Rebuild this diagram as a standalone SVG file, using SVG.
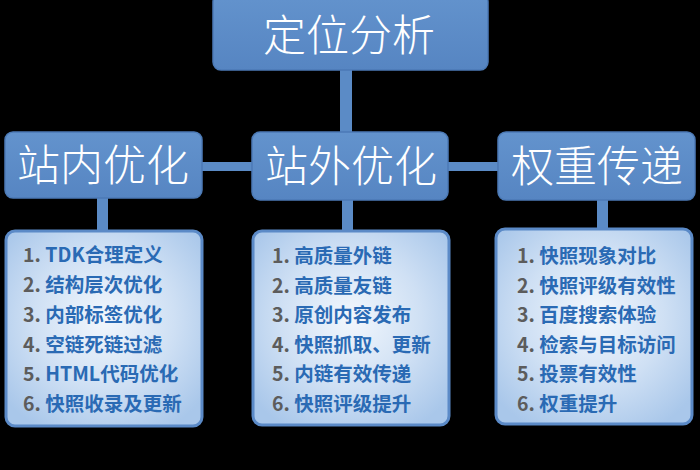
<svg xmlns="http://www.w3.org/2000/svg" width="700" height="470" viewBox="0 0 700 470">
  <defs>
    <radialGradient id="listFill" cx="50%" cy="45%" r="65%">
      <stop offset="0" stop-color="#f2f7fd"/>
      <stop offset="0.55" stop-color="#cfe0f4"/>
      <stop offset="1" stop-color="#a9c7ea"/>
    </radialGradient>
    <linearGradient id="headFill" x1="0" y1="0" x2="0" y2="1">
      <stop offset="0" stop-color="#6393cd"/>
      <stop offset="1" stop-color="#5685c2"/>
    </linearGradient>
    <style>
      .head { fill: url(#headFill); stroke: #4c7ab6; stroke-width: 1.5; }
      .list { fill: url(#listFill); stroke: #5b8ac7; stroke-width: 3; }
      .conn { fill: #5b8bc6; }
      .htxt { font-family: "Noto Sans CJK SC", "DejaVu Sans", sans-serif; font-weight: 300; font-size: 43px; fill: #ffffff; text-anchor: middle; }
      .ltxt { font-family: "Noto Sans CJK SC", "Liberation Sans", sans-serif; font-weight: bold; font-size: 19.5px; fill: #2a6ab4; }
      .num { fill: #5c5c5c; }
    </style>
  </defs>
  <rect width="700" height="470" fill="#000000"/>

  <g id="connectors">
    <rect class="conn" x="340" y="68" width="12" height="66"/>
    <rect class="conn" x="200" y="162" width="54" height="9"/>
    <rect class="conn" x="446" y="162" width="54" height="9"/>
    <rect class="conn" x="97" y="196" width="11" height="36"/>
    <rect class="conn" x="342" y="198" width="11" height="34"/>
    <rect class="conn" x="597" y="198" width="11" height="32"/>
  </g>

  <g id="node-top">
    <rect class="head" x="213" y="-6" width="275" height="76" rx="8"/>
    <text class="htxt" x="349" y="51">定位分析</text>
  </g>

  <g id="node-onsite">
    <rect class="head" x="5" y="132" width="197" height="66" rx="8"/>
    <text class="htxt" x="103" y="181">站内优化</text>
  </g>

  <g id="node-offsite">
    <rect class="head" x="252" y="132" width="196" height="68" rx="8"/>
    <text class="htxt" x="351" y="182">站外优化</text>
  </g>

  <g id="node-weight">
    <rect class="head" x="498" y="132" width="197" height="68" rx="8"/>
    <text class="htxt" x="597" y="182">权重传递</text>
  </g>

  <g id="list-onsite">
    <rect class="list" x="6" y="231" width="196" height="195" rx="9"/>
    <text class="ltxt" x="23" y="262"><tspan class="num">1. </tspan>TDK合理定义</text>
    <text class="ltxt" x="23" y="292"><tspan class="num">2. </tspan>结构层次优化</text>
    <text class="ltxt" x="23" y="322"><tspan class="num">3. </tspan>内部标签优化</text>
    <text class="ltxt" x="23" y="352"><tspan class="num">4. </tspan>空链死链过滤</text>
    <text class="ltxt" x="23" y="381"><tspan class="num">5. </tspan>HTML代码优化</text>
    <text class="ltxt" x="23" y="411"><tspan class="num">6. </tspan>快照收录及更新</text>
  </g>

  <g id="list-offsite">
    <rect class="list" x="253" y="231" width="196" height="194" rx="9"/>
    <text class="ltxt" x="272" y="263"><tspan class="num">1. </tspan>高质量外链</text>
    <text class="ltxt" x="272" y="293"><tspan class="num">2. </tspan>高质量友链</text>
    <text class="ltxt" x="272" y="322"><tspan class="num">3. </tspan>原创内容发布</text>
    <text class="ltxt" x="272" y="352"><tspan class="num">4. </tspan>快照抓取、更新</text>
    <text class="ltxt" x="272" y="381"><tspan class="num">5. </tspan>内链有效传递</text>
    <text class="ltxt" x="272" y="411"><tspan class="num">6. </tspan>快照评级提升</text>
  </g>

  <g id="list-weight">
    <rect class="list" x="496" y="229" width="196" height="195" rx="9"/>
    <text class="ltxt" x="517" y="263"><tspan class="num">1. </tspan>快照现象对比</text>
    <text class="ltxt" x="517" y="293"><tspan class="num">2. </tspan>快照评级有效性</text>
    <text class="ltxt" x="517" y="322"><tspan class="num">3. </tspan>百度搜索体验</text>
    <text class="ltxt" x="517" y="352"><tspan class="num">4. </tspan>检索与目标访问</text>
    <text class="ltxt" x="517" y="381"><tspan class="num">5. </tspan>投票有效性</text>
    <text class="ltxt" x="517" y="411"><tspan class="num">6. </tspan>权重提升</text>
  </g>
</svg>
